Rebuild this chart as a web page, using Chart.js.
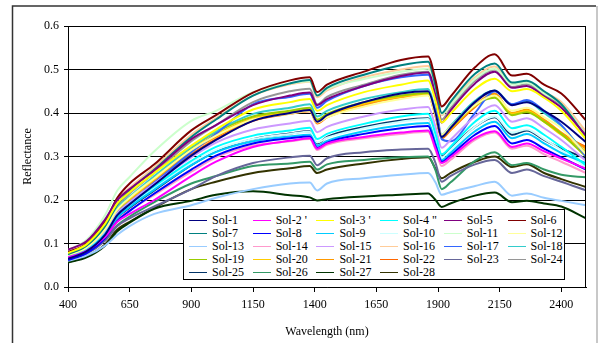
<!DOCTYPE html>
<html>
<head>
<meta charset="utf-8">
<script src="https://cdn.jsdelivr.net/npm/chart.js@4.4.1/dist/chart.umd.min.js"></script>
<style>
  html, body { margin: 0; padding: 0; background: #fff; }
  #wrap { position: relative; width: 599px; height: 343px; overflow: hidden; }
  #legend {
    position: absolute; left: 183px; top: 209px; width: 382px; height: 71px;
    background: #fff; border: 1px solid #000; box-sizing: border-box;
    font-family: "Times New Roman", "Liberation Serif", "DejaVu Serif", serif; font-size: 12px; color: #000;
  }
  .item { position: absolute; height: 13px; line-height: 13px; white-space: nowrap; }
  .item span.sw { position: absolute; left: 0; top: 6px; width: 18px; height: 1px; }
  .item span.tx { position: absolute; left: 23px; top: 0; }
</style>
</head>
<body>
<div id="wrap">
  <canvas id="chart" width="599" height="343"></canvas>
  <div id="legend"></div>
</div>
<script>
const wavelengths = [400, 475, 550, 600, 650, 750, 900, 1000, 1150, 1300, 1380, 1410, 1450,
                     1600, 1750, 1860, 1890, 1915, 1950, 2050, 2130, 2200, 2260, 2330, 2400, 2500];
const xTicks = [400, 650, 900, 1150, 1400, 1650, 1900, 2150, 2400];

const names = ["Sol-1", "Sol-2 '", "Sol-3 '", 'Sol-4 "', "Sol-5", "Sol-6",
               "Sol-7", "Sol-8", "Sol-9", "Sol-10", "Sol-11", "Sol-12",
               "Sol-13", "Sol-14", "Sol-15", "Sol-16", "Sol-17", "Sol-18",
               "Sol-19", "Sol-20", "Sol-21", "Sol-22", "Sol-23", "Sol-24",
               "Sol-25", "Sol-26", "Sol-27", "Sol-28"];
const colors = ["#000080", "#FF00FF", "#FFFF00", "#00FFFF", "#800080", "#800000",
                "#008080", "#0000FF", "#00CCFF", "#CCFFFF", "#CCFFCC", "#FFFF99",
                "#99CCFF", "#FF99CC", "#CC99FF", "#FFCC99", "#3366FF", "#33CCCC",
                "#99CC00", "#FFCC00", "#FF9900", "#FF6600", "#666699", "#969696",
                "#003366", "#339966", "#003300", "#333300"];

// reflectance per soil
const sol01 = [.065,.082,.120,.165,.190,.235,.302,.338,.382,.400,.407,.380,.395,.425,.445,.450,.400,.345,.365,.425,.452,.418,.425,.405,.380,.333];
const sol02 = [.068,.083,.115,.150,.168,.200,.255,.288,.322,.336,.342,.318,.330,.345,.355,.360,.318,.285,.298,.342,.358,.322,.330,.312,.295,.272];
const sol03 = [.078,.098,.145,.192,.218,.262,.325,.362,.408,.425,.432,.405,.418,.448,.465,.475,.428,.378,.398,.455,.479,.450,.455,.435,.405,.340];
const sol04 = [.068,.085,.122,.165,.190,.232,.290,.322,.348,.360,.366,.340,.352,.375,.392,.398,.352,.305,.322,.380,.405,.365,.372,.350,.322,.280];
const sol05 = [.086,.105,.155,.200,.225,.268,.340,.372,.418,.440,.447,.418,.432,.462,.485,.493,.440,.378,.405,.468,.495,.458,.462,.438,.412,.348];
const sol06 = [.080,.100,.150,.205,.238,.282,.360,.395,.447,.475,.482,.448,.465,.495,.522,.530,.475,.415,.437,.505,.535,.486,.490,.465,.445,.383];
const sol07 = [.075,.095,.140,.190,.222,.270,.345,.385,.440,.468,.476,.440,.458,.488,.510,.518,.462,.400,.425,.490,.514,.470,.474,.450,.420,.345];
const sol08 = [.062,.078,.112,.152,.175,.215,.270,.302,.330,.342,.346,.320,.332,.352,.365,.370,.325,.288,.302,.350,.370,.330,.338,.318,.298,.270];
const sol09 = [.065,.081,.118,.160,.184,.224,.280,.310,.335,.346,.350,.325,.336,.358,.372,.377,.330,.292,.308,.358,.380,.342,.352,.330,.308,.285];
const sol10 = [.066,.083,.120,.162,.186,.228,.285,.315,.340,.352,.357,.332,.343,.365,.380,.386,.342,.298,.315,.368,.392,.355,.362,.340,.315,.275];
const sol11 = [.085,.108,.165,.222,.253,.312,.382,.405,.448,.468,.473,.440,.455,.478,.495,.502,.452,.398,.418,.478,.502,.466,.470,.445,.420,.350];
const sol12 = [.072,.090,.132,.178,.205,.250,.315,.348,.385,.398,.405,.378,.390,.415,.432,.440,.395,.350,.368,.418,.440,.405,.412,.390,.365,.305];
const sol13 = [.060,.072,.095,.120,.140,.168,.188,.205,.225,.238,.240,.222,.238,.250,.258,.262,.240,.212,.218,.232,.242,.210,.215,.205,.198,.188];
const sol14 = [.066,.082,.116,.155,.176,.212,.265,.298,.325,.335,.340,.315,.327,.342,.352,.357,.315,.278,.292,.338,.355,.318,.325,.305,.288,.262];
const sol15 = [.070,.087,.126,.170,.195,.238,.298,.332,.362,.376,.382,.356,.368,.392,.408,.414,.368,.320,.338,.392,.418,.380,.388,.365,.338,.290];
const sol16 = [.078,.098,.145,.200,.228,.275,.350,.388,.440,.466,.472,.436,.452,.482,.500,.508,.455,.395,.420,.482,.507,.468,.472,.448,.425,.358];
const sol17 = [.072,.090,.128,.170,.195,.240,.310,.352,.420,.437,.444,.412,.428,.462,.482,.488,.430,.340,.335,.400,.450,.420,.430,.405,.372,.300];
const sol18 = [.073,.092,.135,.182,.208,.255,.322,.358,.398,.412,.420,.392,.405,.432,.448,.455,.405,.350,.370,.428,.452,.420,.426,.400,.370,.305];
const sol19 = [.070,.088,.130,.178,.205,.252,.320,.356,.392,.405,.412,.385,.398,.425,.440,.446,.398,.345,.365,.418,.435,.395,.402,.380,.352,.300];
const sol20 = [.070,.088,.128,.175,.202,.248,.315,.350,.388,.402,.408,.382,.394,.422,.438,.444,.396,.348,.364,.416,.438,.398,.405,.380,.350,.312];
const sol21 = [.068,.085,.125,.172,.200,.245,.312,.345,.385,.400,.405,.378,.392,.420,.437,.443,.395,.345,.362,.418,.445,.400,.408,.385,.355,.318];
const sol22 = [.066,.083,.120,.165,.193,.238,.305,.340,.382,.398,.404,.376,.390,.418,.436,.442,.392,.342,.360,.414,.444,.398,.406,.382,.352,.322];
const sol23 = [.062,.076,.106,.140,.158,.185,.225,.255,.285,.298,.302,.280,.296,.310,.316,.318,.285,.242,.255,.282,.292,.262,.270,.255,.242,.222];
const sol24 = [.074,.093,.138,.185,.215,.262,.335,.372,.425,.450,.456,.420,.437,.465,.488,.495,.445,.385,.410,.475,.500,.460,.466,.442,.418,.352];
const sol25 = [.064,.080,.116,.158,.182,.222,.280,.312,.340,.353,.358,.330,.345,.368,.383,.388,.340,.300,.318,.368,.390,.350,.360,.338,.318,.296];
const sol26 = [.064,.078,.108,.142,.162,.195,.238,.255,.278,.284,.288,.270,.282,.292,.298,.300,.268,.225,.240,.290,.310,.280,.285,.270,.258,.252];
const sol27 = [.056,.068,.095,.128,.148,.180,.198,.212,.220,.211,.206,.199,.202,.208,.212,.215,.200,.184,.192,.210,.217,.195,.198,.192,.185,.158];
const sol28 = [.057,.070,.098,.132,.150,.182,.225,.242,.262,.273,.278,.262,.270,.284,.294,.298,.272,.250,.262,.288,.300,.276,.282,.262,.248,.230];

const series = [sol01, sol02, sol03, sol04, sol05, sol06, sol07, sol08, sol09, sol10,
                sol11, sol12, sol13, sol14, sol15, sol16, sol17, sol18, sol19, sol20,
                sol21, sol22, sol23, sol24, sol25, sol26, sol27, sol28];

const FONT = '"Times New Roman", "Liberation Serif", "DejaVu Serif", serif';

// outer frame + plot box
const framePlugin = {
    id: 'frame',
    beforeDraw(chart) {
        const ctx = chart.ctx;
        ctx.save();
        ctx.fillStyle = '#fff';
        ctx.fillRect(0, 0, chart.width, chart.height);
        ctx.strokeStyle = '#333';
        ctx.lineWidth = 1.5;
        ctx.beginPath();
        ctx.moveTo(12.5, 343);
        ctx.lineTo(12.5, 6);
        ctx.lineTo(596, 6);
        ctx.stroke();
        ctx.strokeStyle = '#c8c8c8';
        ctx.lineWidth = 2;
        ctx.beginPath();
        ctx.moveTo(597, 6);
        ctx.lineTo(597, 343);
        ctx.stroke();
        ctx.restore();
    },
    afterDraw(chart) {
        const a = chart.chartArea;
        const ctx = chart.ctx;
        ctx.save();
        ctx.strokeStyle = '#000';
        ctx.lineWidth = 1;
        ctx.beginPath();
        ctx.moveTo(a.left, a.top + 0.5);
        ctx.lineTo(a.right - 0.5, a.top + 0.5);
        ctx.lineTo(a.right - 0.5, a.bottom);
        ctx.stroke();
        ctx.restore();
    }
};

const datasets = series.map((vals, i) => ({
    label: names[i],
    data: wavelengths.map((w, j) => ({ x: w, y: vals[j] })),
    borderColor: colors[i],
    backgroundColor: colors[i],
    borderWidth: 2,
    pointRadius: 0,
    fill: false,
    cubicInterpolationMode: 'monotone'
}));

new Chart(document.getElementById('chart'), {
    type: 'line',
    data: { datasets },
    plugins: [framePlugin],
    options: {
        responsive: false,
        animation: false,
        devicePixelRatio: 1,
        layout: { padding: { left: 14, top: 26, right: 13, bottom: 4 } },
        plugins: { legend: { display: false }, tooltip: { enabled: false } },
        scales: {
            x: {
                type: 'linear',
                min: 400,
                max: 2500,
                afterBuildTicks: (scale) => { scale.ticks = xTicks.map(v => ({ value: v })); },
                afterFit: (scale) => { scale.height = 52; },
                ticks: {
                    autoSkip: false, maxRotation: 0, padding: 6,
                    color: '#000', font: { family: FONT, size: 12 },
                    callback: (v) => String(v)
                },
                grid: { drawOnChartArea: false, drawTicks: true, tickLength: 5, tickColor: '#000' },
                border: { color: '#000', width: 1 },
                title: {
                    display: true, text: 'Wavelength (nm)', color: '#000',
                    font: { family: FONT, size: 12 }, padding: { top: 2, bottom: 0 }
                }
            },
            y: {
                min: 0,
                max: 0.6,
                afterFit: (scale) => { scale.width = 54; },
                ticks: {
                    stepSize: 0.1, padding: 5,
                    color: '#000', font: { family: FONT, size: 12 },
                    callback: (v) => v.toFixed(1)
                },
                grid: { color: '#000', lineWidth: 1, drawTicks: true, tickLength: 4, tickColor: '#000' },
                border: { color: '#000', width: 1 },
                title: {
                    display: true, text: 'Reflectance', color: '#000',
                    font: { family: FONT, size: 12 }, padding: { top: 7, bottom: 0 }
                }
            }
        }
    }
});

// legend box inside the plot, 6 columns
const legend = document.getElementById('legend');
names.forEach((n, i) => {
    const item = document.createElement('div');
    item.className = 'item';
    item.style.left = (5 + (i % 6) * 63.7) + 'px';
    item.style.top = (4 + Math.floor(i / 6) * 12.9) + 'px';
    item.innerHTML = '<span class="sw" style="background:' + colors[i] + '"></span><span class="tx"></span>';
    item.querySelector('.tx').textContent = n;
    legend.appendChild(item);
});
</script>
</body>
</html>
